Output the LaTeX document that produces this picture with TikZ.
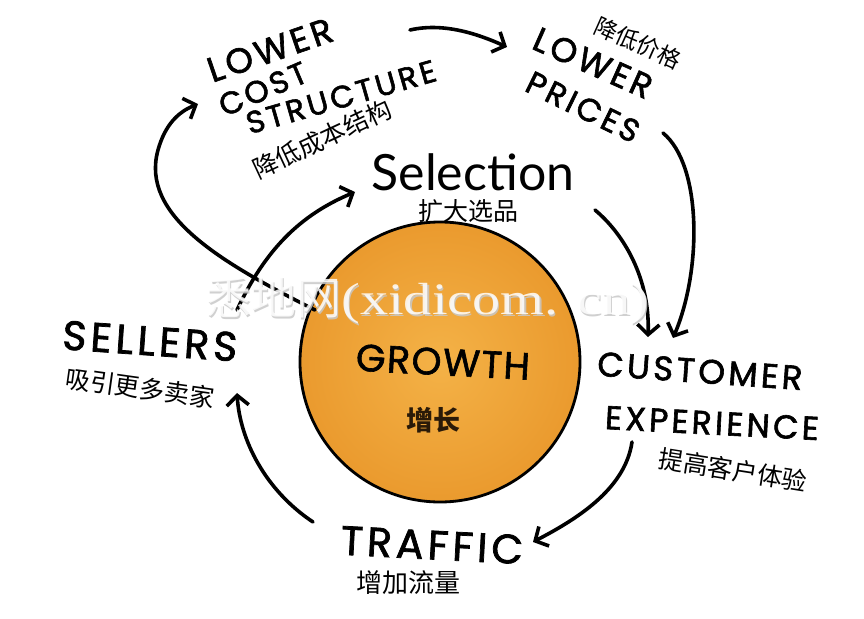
\documentclass[tikz,border=0pt]{standalone}
\usepackage{fontspec}
\newfontfamily\hand{Poppins}[FakeBold=1.8, LetterSpace=10]
\newfontfamily\handg{Poppins}[FakeBold=1.6, LetterSpace=4]
\newfontfamily\handlc{Lato}
\newfontfamily\cjk{Noto Sans CJK SC}
\newfontfamily\wmserif{Liberation Serif}
\usetikzlibrary{arrows.meta}
\definecolor{ballA}{HTML}{F4B247}
\definecolor{ballB}{HTML}{EA9A2E}
\definecolor{wmgray}{HTML}{C8C8C8}
\definecolor{darkbrown}{HTML}{2A1A08}
\newcommand{\fs}[1]{\fontsize{#1}{#1}\selectfont}
\begin{document}
\begin{tikzpicture}[x=1pt,y=-1pt,
  arr/.style={line width=3.6pt, line cap=round, -{Straight Barb[length=10pt,width=22pt,line width=3.6pt]}},
  hw/.style={inner sep=0pt, text=black},
  cn/.style={inner sep=0pt, text=black},
  ball/.style={circle, draw=black, line width=2.8pt, minimum size=280pt, inner color=ballA, outer color=ballB}]
\useasboundingbox[fill=white] (0,0) rectangle (864,618);

% central ball
\node[ball] (ball) at (440,362) {};
\node[hw, font=\handg\fs{38}, rotate=-3] (growth) at (443,362) {GROWTH};
\node[cn, font=\cjk\bfseries\fs{27}, text=darkbrown] (growthcn) at (433,420) {增长};

% lower cost structure
\node[hw, font=\hand\fs{35}, rotate=19] (lcs1) at (270,50) {LOWER};
\node[hw, font=\hand\fs{31}, rotate=23] (lcs2) at (263,89) {COST};
\node[hw, font=\hand\fs{31}, rotate=16] (lcs3) at (341,97) {STRUCTURE};
\node[cn, font=\cjk\fs{25}, rotate=25] (lcscn) at (322,139) {降低成本结构};

% lower prices
\node[hw, font=\hand\fs{34}, rotate=-24] (lp1) at (593,63) {LOWER};
\node[hw, font=\hand\fs{32}, rotate=-26] (lp2) at (583,107) {PRICES};
\node[cn, font=\cjk\fs{23}, rotate=-24] (lpcn) at (638,43) {降低价格};

% selection
\node[hw, font=\handlc\fs{50}] (sel) at (473,172) {Selection};
\node[cn, font=\cjk\fs{25}] (selcn) at (468,211) {扩大选品};

% sellers
\node[hw, font=\hand\fs{41}, rotate=-4] (sellers) at (150,341) {SELLERS};
\node[cn, font=\cjk\fs{25}, rotate=-8] (sellerscn) at (140,388) {吸引更多卖家};

% customer experience
\node[hw, font=\hand\fs{34}, rotate=-4] (cx1) at (700,371) {CUSTOMER};
\node[hw, font=\hand\fs{33}, rotate=-3] (cx2) at (712,423) {EXPERIENCE};
\node[cn, font=\cjk\fs{25}, rotate=-9] (cxcn) at (733,470) {提高客户体验};

% traffic
\node[hw, font=\hand\fs{41}, rotate=-3] (traffic) at (432,545) {TRAFFIC};
\node[cn, font=\cjk\fs{26}] (trafficcn) at (408,583) {增加流量};

% arrow end points
\coordinate (a1s) at (410,30);  \coordinate (a1e) at (507,47);
\coordinate (a2s) at (663,133); \coordinate (a2e) at (673,338);
\coordinate (a3s) at (595,210); \coordinate (a3e) at (648,337);
\coordinate (a4s) at (632,442); \coordinate (a4e) at (533,542);
\coordinate (a5s) at (313,522); \coordinate (a5e) at (237,393);
\coordinate (a6s) at (237,310); \coordinate (a6e) at (355,192);
\coordinate (a7s) at (315,310); \coordinate (a7e) at (198,104);

\draw[arr] (a1s) .. controls (445,22) and (480,35) .. (a1e);
\draw[arr] (a2s) .. controls (702,165) and (702,270) .. (a2e);
\draw[arr] (a3s) .. controls (625,235) and (650,280) .. (a3e);
\draw[arr] (a4s) .. controls (625,490) and (575,520) .. (a4e);
\draw[arr] (a5s) .. controls (265,490) and (240,440) .. (a5e);
\draw[arr] (a6s) .. controls (265,250) and (300,215) .. (a6e);
\draw[arr] (a7s) .. controls (220,262) and (140,215) .. (158,150) .. controls (165,125) and (178,112) .. (a7e);

% watermark
\node[inner sep=0pt, text=wmgray, opacity=0.85] (wm) at (429,302)
  {\cjk\fs{45}悉地网\wmserif\scalebox{1.25}[1]{(xidicom. cn)}};
\node[inner sep=0pt, text=white, opacity=0.85] (wmhi) at (427.8,300.8)
  {\cjk\fs{45}悉地网\wmserif\scalebox{1.25}[1]{(xidicom. cn)}};
\end{tikzpicture}
\end{document}
